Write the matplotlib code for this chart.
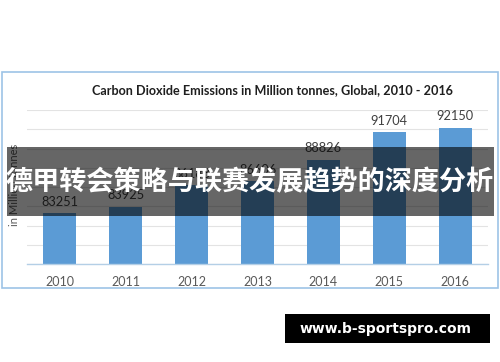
import matplotlib
matplotlib.use("Agg")
import matplotlib.pyplot as plt
from matplotlib.patches import Rectangle

years = ["2010", "2011", "2012", "2013", "2014", "2015", "2016"]
emissions = [83251, 83925, 86183, 86606, 88826, 91704, 92150]

title = "Carbon Dioxide Emissions in Million tonnes, Global, 2010 - 2016"
ylabel = "in Million tonnes"
banner = "德甲转会策略与联赛发展趋势的深度分析"
site = "www.b-sportspro.com"

W, H = 500, 362
fig = plt.figure(figsize=(5, 3.62), dpi=100)
fig.patch.set_facecolor("white")

# chart frame
fig.patches.append(Rectangle((1.5 / W, 1 - 288 / H), 496 / W, 216 / H,
                             transform=fig.transFigure, fill=False,
                             edgecolor="#9dc3e6", linewidth=1.2, zorder=0))

ax = fig.add_axes([27 / W, 1 - 264 / H, 461 / W, 154 / H])
x = range(len(years))
ax.bar(x, emissions, width=0.5, color="#5b9bd5", zorder=2)
ax.set_ylim(78000, 94000)
ax.set_xlim(-0.5, len(years) - 0.5)
ax.set_yticks(range(78000, 94001, 2000))
ax.yaxis.grid(True, color="#e3e3e3", linewidth=0.8, zorder=0)
ax.tick_params(axis="y", left=False, labelleft=False)
ax.tick_params(axis="x", length=0, pad=9, labelsize=9, labelcolor="#595959")
ax.set_xticks(list(x))
ax.set_xticklabels(years, family="Lato")
for s in ["top", "right", "left"]:
    ax.spines[s].set_visible(False)
ax.spines["bottom"].set_color("#b4cfe6")
ax.spines["bottom"].set_linewidth(1.0)

for xi, v in zip(x, emissions):
    ax.annotate(str(v), (xi, v), xytext=(0, 4), textcoords="offset points",
                ha="center", va="bottom", fontsize=9.2, color="#404040",
                family="Lato")

fig.text(272 / W, 1 - 90 / H, title, ha="center", va="center",
         fontsize=9.1, fontweight="bold", color="#1f1f1f", family="Lato")
fig.text(15 / W, 1 - 185 / H, ylabel, ha="center", va="center",
         rotation=90, fontsize=8, color="#595959", family="Lato")

# dark banner
fig.patches.append(Rectangle((7 / W, 1 - 216 / H), 487 / W, 69 / H,
                             transform=fig.transFigure, facecolor="black",
                             alpha=0.6, edgecolor="none", zorder=5))
fig.text(250 / W, 1 - 182 / H, banner, ha="center", va="center",
         fontsize=19.5, fontweight="bold", color="white",
         family=["Noto Sans CJK SC", "DejaVu Sans"], zorder=6)

# site box
fig.patches.append(Rectangle((285 / W, 1 - 343 / H), 205 / W, 29 / H,
                             transform=fig.transFigure, facecolor="black",
                             edgecolor="none", zorder=5))
fig.text(386 / W, 1 - 329 / H, site, ha="center", va="center",
         fontsize=10, fontweight="bold", color="white",
         family="DejaVu Sans", zorder=6)

fig.savefig("out.png", dpi=100)
